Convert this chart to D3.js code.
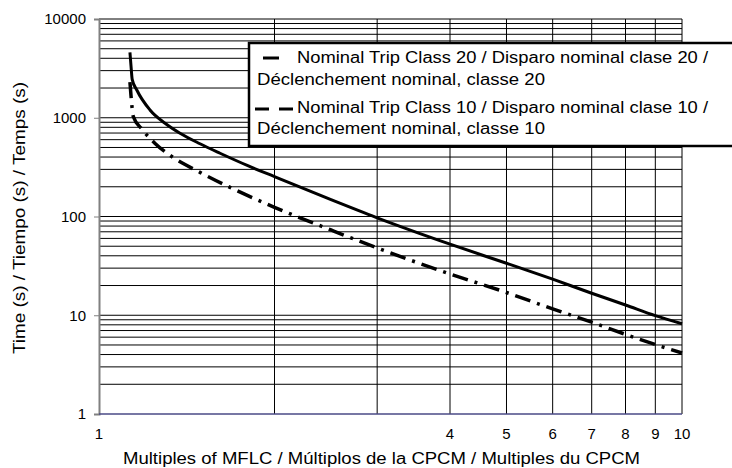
<!DOCTYPE html>
<html>
<head>
  <meta charset="UTF-8">
  <title>Trip Class Curves</title>
  <script src="https://cdn.jsdelivr.net/npm/d3@7/dist/d3.min.js"></script>
  <style>
    body { margin: 0; background: #fff; }
    text { font-family: "Liberation Sans", Arial, sans-serif; fill: #000; }
  </style>
</head>
<body>
  <svg id="chart" width="732" height="468"></svg>

  <script>
    // multiples of MFLC vs trip time (s)
    const class20 = [
      [1.13, 4600], [1.135, 3300], [1.14, 2450], [1.161, 1910], [1.223, 1200],
      [1.298, 880], [1.377, 697], [1.49, 545], [1.613, 437], [1.8, 327],
      [2, 253], [2.5, 148], [3, 97], [4, 52.5], [5, 33.6],
      [6, 23.2], [7, 16.7], [8, 12.7], [9, 9.9], [10, 8.2]
    ];
    const class10 = [
      [1.13, 2300], [1.135, 1650], [1.145, 1030], [1.184, 770], [1.248, 550],
      [1.341, 395], [1.49, 280], [1.7, 190], [2, 124], [2.5, 73],
      [3, 48], [4, 26.2], [5, 17], [6, 11.6], [7, 8.5], [8, 6.4],
      [9, 5.05], [10, 4.15]
    ];
    const xTickLabels = [1, 4, 5, 6, 7, 8, 9, 10];
    const yTickLabels = [1, 10, 100, 1000, 10000];
    const legendLabels = [
      ['Nominal Trip Class 20 / Disparo nominal clase 20 /', 'Déclenchement nominal, classe 20'],
      ['Nominal Trip Class 10 / Disparo nominal clase 10 /', 'Déclenchement nominal, classe 10']
    ];

    const svg = d3.select('#chart');
    const x = d3.scaleLog().domain([1, 10]).range([99, 682]);
    const y = d3.scaleLog().domain([1, 10000]).range([414, 19]);

    // minor grid values
    let yGrid = [];
    for (let d = 1; d < 10000; d *= 10)
    {
      for (let k = 2; k <= 10; k++) yGrid.push(d * k);
    }
    const xGrid = d3.range(2, 11);

    const grid = svg.append('g');
    grid.selectAll('line.h').data(yGrid).enter().append('line')
      .attr('x1', x(1)).attr('x2', x(10))
      .attr('y1', d => y(d)).attr('y2', d => y(d))
      .attr('stroke', '#000').attr('stroke-width', 1);
    grid.selectAll('line.v').data(xGrid).enter().append('line')
      .attr('x1', d => x(d)).attr('x2', d => x(d))
      .attr('y1', y(1)).attr('y2', y(10000))
      .attr('stroke', '#000').attr('stroke-width', 1);

    // left axis, gray, with ticks on the decades
    const yAxis = d3.axisLeft(y).tickValues(yTickLabels).tickFormat(d3.format('d')).tickSize(5).tickPadding(8);
    const ya = svg.append('g').attr('transform', `translate(${x(1)},0)`).call(yAxis);
    ya.select('.domain').attr('stroke', '#808080').attr('stroke-width', 2);
    ya.selectAll('.tick line').attr('stroke', '#808080');
    ya.selectAll('.tick text').style('font-size', '15px').attr('fill', '#000');

    // bottom axis line is bluish
    svg.append('line')
      .attr('x1', x(1)).attr('x2', x(10)).attr('y1', y(1)).attr('y2', y(1))
      .attr('stroke', '#4a4a86').attr('stroke-width', 1.5);

    svg.append('g').selectAll('text').data(xTickLabels).enter().append('text')
      .attr('x', d => x(d)).attr('y', 439)
      .attr('text-anchor', 'middle').style('font-size', '15px')
      .text(d => d);

    // curves
    const line = d3.line().x(d => x(d[0])).y(d => y(d[1])).curve(d3.curveMonotoneX);
    svg.append('path').datum(class20).attr('d', line)
      .attr('fill', 'none').attr('stroke', '#000').attr('stroke-width', 3);
    svg.append('path').datum(class10).attr('d', line)
      .attr('fill', 'none').attr('stroke', '#000').attr('stroke-width', 3.5)
      .attr('stroke-dasharray', '16,7,3,7');

    // legend
    const lg = svg.append('g');
    lg.append('rect').attr('x', 249).attr('y', 43).attr('width', 500).attr('height', 103)
      .attr('fill', '#fff').attr('stroke', '#000').attr('stroke-width', 2.5);
    lg.append('line').attr('x1', 263).attr('x2', 279).attr('y1', 58).attr('y2', 58)
      .attr('stroke', '#000').attr('stroke-width', 3);
    lg.append('line').attr('x1', 255).attr('x2', 293).attr('y1', 109).attr('y2', 109)
      .attr('stroke', '#000').attr('stroke-width', 3).attr('stroke-dasharray', '14,10');
    const rows = [[297, 63, 411, legendLabels[0][0]], [257, 85, 288, legendLabels[0][1]],
                  [297, 113, 411, legendLabels[1][0]], [257, 134, 288, legendLabels[1][1]]];
    lg.selectAll('text').data(rows).enter().append('text')
      .attr('x', d => d[0]).attr('y', d => d[1])
      .attr('textLength', d => d[2]).attr('lengthAdjust', 'spacingAndGlyphs')
      .style('font-size', '16px')
      .text(d => d[3]);

    // titles
    svg.append('text')
      .attr('transform', 'translate(25,218) rotate(-90)')
      .attr('text-anchor', 'middle').style('font-size', '16px')
      .attr('textLength', 272).attr('lengthAdjust', 'spacingAndGlyphs')
      .text('Time (s) / Tiempo (s) / Temps (s)');
    svg.append('text')
      .attr('x', 381.5).attr('y', 464)
      .attr('text-anchor', 'middle').style('font-size', '16px')
      .attr('textLength', 517).attr('lengthAdjust', 'spacingAndGlyphs')
      .text('Multiples of MFLC / Múltiplos de la CPCM / Multiples du CPCM');
  </script>
</body>
</html>
